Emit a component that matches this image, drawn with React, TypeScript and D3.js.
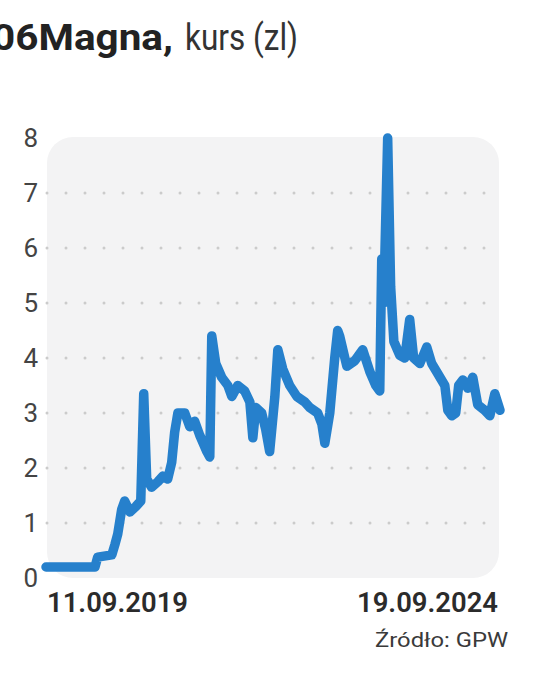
import React from "react";
import * as d3 from "d3";

const dates: string[] = [
  "2019-09-11", "2020-03-27", "2020-04-07", "2020-06-03", "2020-06-15", "2020-06-27",
  "2020-07-13", "2020-07-25", "2020-08-15", "2020-09-08", "2020-09-28", "2020-10-10",
  "2020-10-22", "2020-11-11", "2020-12-06", "2020-12-26", "2021-01-15", "2021-01-31",
  "2021-02-12", "2021-02-25", "2021-03-25", "2021-04-14", "2021-05-04", "2021-05-24",
  "2021-06-22", "2021-07-04", "2021-07-12", "2021-07-28", "2021-08-21", "2021-09-15",
  "2021-10-01", "2021-10-25", "2021-11-22", "2021-12-13", "2021-12-25", "2022-01-06",
  "2022-01-30", "2022-02-15", "2022-03-03", "2022-03-24", "2022-04-05", "2022-04-25",
  "2022-05-23", "2022-06-21", "2022-07-23", "2022-08-12", "2022-09-13", "2022-09-30",
  "2022-10-12", "2022-11-01", "2022-11-21", "2022-12-03", "2022-12-11", "2023-01-01",
  "2023-01-09", "2023-02-10",
  "2023-03-14", "2023-04-12", "2023-05-06", "2023-05-22", "2023-05-30", "2023-06-07",
  "2023-06-15", "2023-06-23", "2023-07-05", "2023-07-18", "2023-08-11", "2023-08-31",
  "2023-09-20", "2023-10-06", "2023-10-31", "2023-11-28", "2023-12-18", "2024-01-07",
  "2024-02-09", "2024-02-21", "2024-03-08", "2024-03-24", "2024-04-05", "2024-04-22",
  "2024-05-12", "2024-06-01", "2024-06-21", "2024-07-19", "2024-08-09", "2024-08-29",
  "2024-09-19",
];

const prices: number[] = [
  0.2, 0.2, 0.38, 0.42, 0.6, 0.8,
  1.25, 1.4, 1.2, 1.3, 1.4, 3.35,
  1.8, 1.65, 1.75, 1.85, 1.8, 2.1,
  2.65, 3.0, 3.0, 2.75, 2.85, 2.6,
  2.3, 2.2, 4.4, 3.9, 3.65, 3.5,
  3.3, 3.5, 3.4, 3.2, 2.55, 3.1,
  3.0, 2.7, 2.3, 3.3, 4.15, 3.8,
  3.5, 3.3, 3.2, 3.1, 3.0, 2.8,
  2.45, 3.0, 4.0, 4.5, 4.4, 4.0,
  3.85, 3.95,
  4.15, 3.75, 3.5, 3.4, 5.8, 5.0,
  6.5, 8.0, 5.3, 4.3, 4.05, 4.0,
  4.7, 4.0, 3.9, 4.2, 3.9, 3.75,
  3.5, 3.05, 2.95, 3.0, 3.5, 3.6,
  3.45, 3.65, 3.15, 3.05, 2.95, 3.35,
  3.05,
];

const yTicks: number[] = [0, 1, 2, 3, 4, 5, 6, 7, 8];
const gridValues: number[] = [1, 2, 3, 4, 5, 6, 7];
const xLabels: string[] = ["11.09.2019", "19.09.2024"];
const titleBold = "06Magna,";
const titleRest = "kurs (zl)";
const source = "Źródło: GPW";

const parse = d3.timeParse("%Y-%m-%d");

export default function App() {
  const data = dates.map((d, i) => ({ date: parse(d) as Date, value: prices[i] }));
  const x = d3
    .scaleTime()
    .domain([parse(dates[0]) as Date, parse(dates[dates.length - 1]) as Date])
    .range([46, 500]);
  const y = d3.scaleLinear().domain([0, 8]).range([578, 138]);
  const line = d3
    .line<{ date: Date; value: number }>()
    .x((d) => x(d.date))
    .y((d) => y(d.value))
    .curve(d3.curveLinear);

  const font = "Roboto, 'Open Sans', sans-serif";

  return (
    <svg
      width={536}
      height={692}
      style={{ position: "absolute", left: 0, top: 0, background: "#fff" }}
    >
      <rect x={0} y={0} width={536} height={692} fill="#fff" />
      <text x={-8} y={50} fontFamily={font} fontSize={36} fill="#222">
        <tspan fontWeight={700} textLength={181} lengthAdjust="spacingAndGlyphs">
          {titleBold}
        </tspan>
      </text>
      <text
        x={185}
        y={50}
        fontFamily={font}
        fontSize={36}
        fill="#333"
        textLength={113}
        lengthAdjust="spacingAndGlyphs"
      >
        {titleRest}
      </text>

      <rect x={47} y={137} width={452} height={441} rx={26} ry={26} fill="#f3f3f4" />

      {gridValues.map((v) => (
        <line
          key={v}
          x1={47}
          x2={500}
          y1={y(v)}
          y2={y(v)}
          stroke="#cbcbcb"
          strokeWidth={3}
          strokeDasharray="0 19"
          strokeLinecap="round"
        />
      ))}

      {yTicks.map((v) => (
        <text
          key={v}
          x={38}
          y={y(v)}
          dy="0.36em"
          textAnchor="end"
          fontFamily={font}
          fontSize={26}
          fill="#444"
        >
          {v}
        </text>
      ))}

      <path
        d={line(data) || ""}
        fill="none"
        stroke="#2680cc"
        strokeWidth={9.5}
        strokeLinejoin="round"
        strokeLinecap="round"
      />

      <text
        x={47}
        y={612}
        fontFamily={font}
        fontSize={28}
        fontWeight={600}
        fill="#2b2b2b"
        textLength={141}
        lengthAdjust="spacingAndGlyphs"
      >
        {xLabels[0]}
      </text>
      <text
        x={357}
        y={612}
        fontFamily={font}
        fontSize={28}
        fontWeight={600}
        fill="#2b2b2b"
        textLength={141}
        lengthAdjust="spacingAndGlyphs"
      >
        {xLabels[1]}
      </text>
      <text
        x={375}
        y={647}
        fontFamily={font}
        fontSize={20}
        fill="#3a3a3a"
        textLength={133}
        lengthAdjust="spacingAndGlyphs"
      >
        {source}
      </text>
    </svg>
  );
}
